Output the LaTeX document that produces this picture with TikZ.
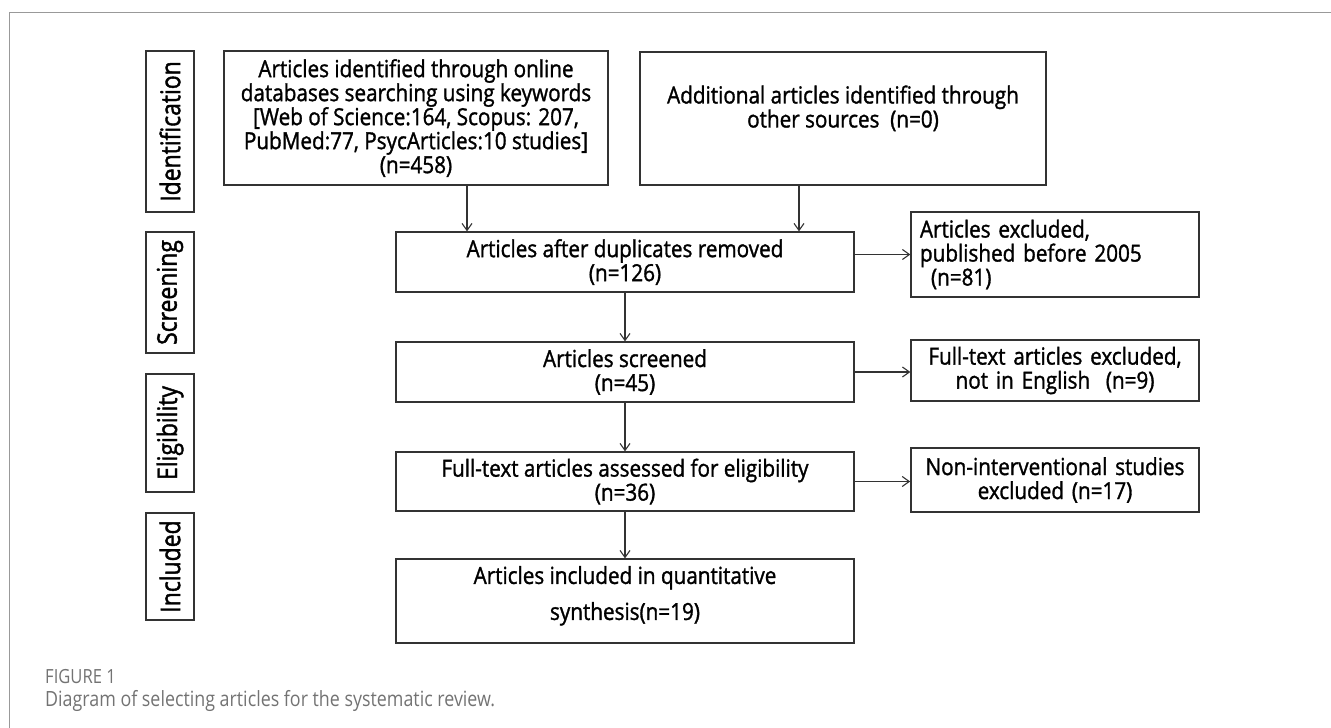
\documentclass[tikz,border=0pt]{standalone}
\usepackage{fontspec}
\usepackage{tikz}
\usetikzlibrary{arrows.meta}
\newfontfamily\boxfont[FakeStretch=0.88, FakeBold=1.3]{Open Sans}
\newfontfamily\stagefont[FakeStretch=0.85, FakeBold=1.5]{Open Sans}
\newfontfamily\capfont[FakeStretch=0.85]{Open Sans}

\begin{document}
\begin{tikzpicture}[x=1pt, y=-1pt,
  box/.style={draw=black!80, line width=1.3pt, align=center, inner sep=0pt, font=\boxfont\fontsize{23.5}{24}\selectfont},
  sidebox/.style={box, minimum width=288, text width=270},
  stage/.style={draw=black!80, line width=1.3pt, rotate=90, minimum height=48, inner sep=0pt, font=\stagefont\fontsize{27}{28}\selectfont},
  link/.style={-{Straight Barb[length=7pt, width=10pt]}, line width=1.1pt, draw=black!80}]
\useasboundingbox (0,0) rectangle (1331,728);
\draw[black!40, line width=1pt] (1331,12) -- (9,12) -- (9,728);

\node[stage, minimum width=161] (sid) at (170,131.5) {Identification};
\node[stage, minimum width=121] (ssc) at (170,292.5) {Screening};
\node[stage, minimum width=118] (sel) at (170,433) {Eligibility};
\node[stage, minimum width=107] (sin) at (170,566.5) {Included};

\node[box, minimum width=384, minimum height=134] (found) at (416,118) {Articles identified through online\\databases searching using keywords\\{[}Web of Science:164, Scopus: 207,\\PubMed:77, PsycArticles:10 studies]\\(n=458)};
\node[box, minimum width=406, minimum height=133] (other) at (843,118.5) {Additional articles identified through\\other sources~~(n=0)\\~};
\node[box, minimum width=458, minimum height=60] (dup) at (625,262) {Articles after duplicates removed\\(n=126)};
\node[box, minimum width=458, minimum height=60] (scr) at (625,372) {Articles screened\\(n=45)};
\node[box, minimum width=458, minimum height=59] (full) at (625,481.5) {Full-text articles assessed for eligibility\\(n=36)};
\node[box, minimum width=458, minimum height=84] (incl) at (625,601) {Articles included in quantitative\\[12pt]synthesis(n=19)\\[-8pt]~};

\node[sidebox, align=left, minimum height=85] (old) at (1055,254.5) {Articles excluded,\\published before 2005\\\hspace*{11pt}(n=81)};
\node[sidebox, minimum height=61] (lang) at (1055,370.5) {Full-text articles excluded,\\not in English~~(n=9)};
\node[sidebox, minimum height=64, line width=1.7pt] (nonint) at (1055,480) {Non-interventional studies\\excluded (n=17)};

\draw[link] ([xshift=51]found.south) -- ([xshift=51]found.south |- dup.north);
\draw[link] ([xshift=-44]other.south) -- ([xshift=-44]other.south |- dup.north);
\draw[link] (dup) -- (scr);
\draw[link] (scr) -- (full);
\draw[link] (full) -- (incl);
\draw[link] (dup.east |- old.west) -- (old.west);
\draw[link] (scr.east) -- (scr.east -| lang.west);
\draw[link] (full.east) -- (full.east -| nonint.west);

\node[anchor=west, inner sep=0pt, text=black!55, font=\capfont\fontsize{19.5}{20}\selectfont] (fig) at (45,677) {FIGURE 1};
\node[anchor=west, inner sep=0pt, text=black!55, font=\capfont\fontsize{21}{22}\selectfont] (cap) at (45,701) {Diagram of selecting articles for the systematic review.};
\end{tikzpicture}
\end{document}
